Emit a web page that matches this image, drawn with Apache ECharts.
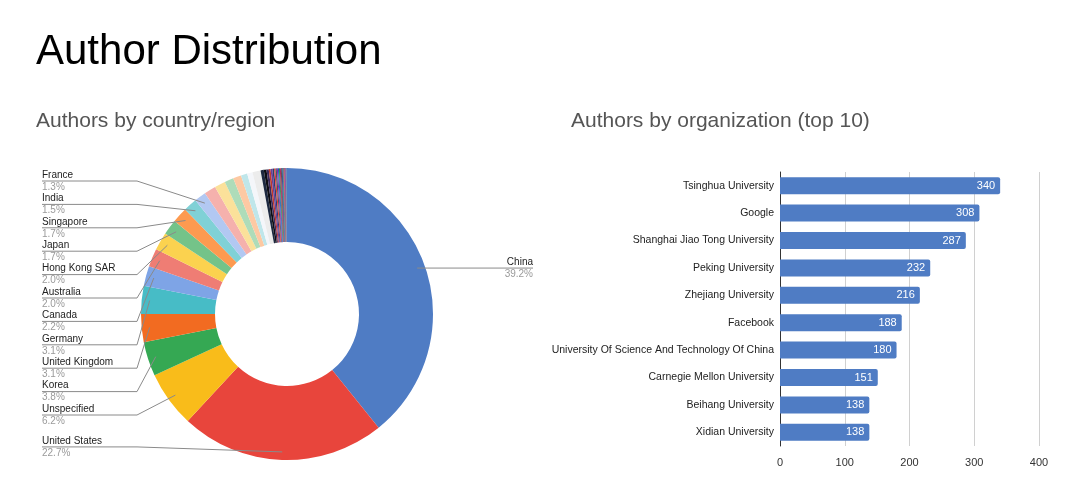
<!DOCTYPE html>
<html>
<head>
<meta charset="utf-8">
<script src="https://cdn.jsdelivr.net/npm/echarts@6/dist/echarts.min.js"></script>
<style>
html,body{margin:0;padding:0;background:#fff;}
#chart{width:1080px;height:498px;}
</style>
</head>
<body>
<div id="chart"></div>
<script>
// ---- Data ----
const countries = ['China','United States','Unspecified','Korea','United Kingdom','Germany','Canada','Australia','Hong Kong SAR','Japan','Singapore','India','France'];
const countryShares = [39.2,22.7,6.2,3.8,3.1,3.1,2.2,2.0,2.0,1.7,1.7,1.5,1.3];
// unlabeled smaller countries/regions
const otherShares = [1.3,1.2,1.0,0.9,0.7,0.6,0.9,0.35,0.3,0.25,0.2,0.2,0.18,0.15,0.15,0.12,0.12,0.1,0.1,0.1,0.1,0.08,0.08,0.07,0.07,0.06,0.06,0.06];

const organizations = ['Tsinghua University','Google','Shanghai Jiao Tong University','Peking University','Zhejiang University','Facebook','University Of Science And Technology Of China','Carnegie Mellon University','Beihang University','Xidian University'];
const orgAuthors = [340,308,287,232,216,188,180,151,138,138];
const orgTicks = [0,100,200,300,400];

// ---- Styles ----
const labeledColors = ['#4f7cc4','#e8453c','#f9bc1a','#35a853','#f26b21','#47bcc6','#7ea4e6','#ef7d74','#fbd24f','#74c389','#fd9a50','#80d1d6','#b2c8f2'];
const otherColors = ['#f5b1ad','#fbe19a','#aedcb9','#fdc9a3','#bfe6ea','#f4f6fa','#ececec',
  '#1d2940','#0e0e14','#3b2a5c','#c0392b','#6a3d9a','#2c3e73','#e53935','#455a64','#8e24aa','#1565c0','#2e7d32','#ad1457','#5d4037','#283593','#00838f','#6d4c41','#d81b60','#37474f','#7b1fa2','#4caf50','#3f51b5'];

const pieNames = countries.concat(otherShares.map((v, i) => 'Other ' + (i + 1)));
const pieValues = countryShares.concat(otherShares);
const pieColors = labeledColors.concat(otherColors);

// colored slices (no labels)
const sliceData = pieNames.map((n, i) => ({name: n, value: pieValues[i], itemStyle: {color: pieColors[i]}}));
// transparent overlay carrying labels + leader lines drawn above the slices
const overlayData = pieNames.map((n, i) => {
  const d = {name: n, value: pieValues[i]};
  if (i >= countries.length) { d.label = {show: false}; d.labelLine = {show: false}; }
  return d;
});

// ---- Layout constants ----
const PIE_CX = 287, PIE_CY = 314, R_IN = 72, R_OUT = 146, R_DOT = 138;
const LABEL_LEFT = 42, LABEL_RIGHT = 533;
const STACK_TOP = 181, STACK_STEP = 23.4, ELBOW_X = 137;
const lastLabeled = countries.length - 1;

// mid angle of each slice (clockwise from 12 o'clock), derived from the data
const total = pieValues.reduce((a, b) => a + b, 0);
const midAngles = [];
(function () {
  let cum = 0;
  pieValues.forEach(v => { midAngles.push(2 * Math.PI * (cum + v / 2) / total); cum += v; });
})();

const pieCommon = {
  type: 'pie',
  left: 0, top: 0, width: 575, height: 498,
  center: [PIE_CX, PIE_CY],
  radius: [R_IN, R_OUT],
  startAngle: 90,
  clockwise: true,
  percentPrecision: 1,
  avoidLabelOverlap: false,
  silent: true
};

const chart = echarts.init(document.getElementById('chart'), null, {renderer: 'canvas'});
chart.setOption({
  animation: false,
  textStyle: {fontFamily: 'Liberation Sans, Arial, sans-serif'},
  title: [
    {text: 'Author Distribution', left: 36, top: 31, padding: 0,
      textStyle: {fontSize: 42, fontWeight: 'normal', color: '#000'}},
    {text: 'Authors by country/region', left: 36, top: 111, padding: 0,
      textStyle: {fontSize: 21, fontWeight: 'normal', color: '#555'}},
    {text: 'Authors by organization (top 10)', left: 571, top: 111, padding: 0,
      textStyle: {fontSize: 21, fontWeight: 'normal', color: '#555'}}
  ],
  grid: {left: 780, right: 41, top: 172, bottom: 52, containLabel: false},
  xAxis: {
    type: 'value', min: orgTicks[0], max: orgTicks[orgTicks.length - 1], interval: 100,
    axisLine: {show: false}, axisTick: {show: false},
    splitLine: {lineStyle: {color: '#d0d0d0', width: 1}},
    axisLabel: {color: '#333', fontSize: 11, margin: 11}
  },
  yAxis: {
    type: 'category', data: organizations, inverse: true,
    axisLine: {show: true, lineStyle: {color: '#333', width: 1}},
    axisTick: {show: false},
    axisLabel: {color: '#222', fontSize: 10.5, margin: 6}
  },
  series: [
    Object.assign({}, pieCommon, {
      name: 'slices',
      z: 2,
      data: sliceData,
      label: {show: false},
      labelLine: {show: false}
    }),
    Object.assign({}, pieCommon, {
      name: 'labels',
      z: 5,
      data: overlayData,
      itemStyle: {color: 'rgba(0,0,0,0)'},
      label: {
        show: true,
        position: 'outer',
        alignTo: 'edge',
        edgeDistance: 42,
        formatter: function (p) {
          return '{n|' + p.name + '}\n{p|' + p.percent.toFixed(1) + '%}';
        },
        rich: {
          n: {fontSize: 10, color: '#222', lineHeight: 12},
          p: {fontSize: 10, color: '#9a9a9a', lineHeight: 12}
        }
      },
      labelLine: {
        show: true, showAbove: true, length: 8, length2: 10,
        lineStyle: {color: '#8a8a8a', width: 1}
      },
      labelLayout: function (params) {
        const idx = params.dataIndex;
        if (idx > lastLabeled) return;
        const a = midAngles[idx];
        const p0 = [PIE_CX + R_DOT * Math.sin(a), PIE_CY - R_DOT * Math.cos(a)];
        if (p0[0] > PIE_CX + 20) {
          const y = p0[1];
          return {
            x: LABEL_RIGHT, y: y, align: 'right', verticalAlign: 'middle',
            labelLinePoints: [p0, [p0[0] + 10, y], [LABEL_RIGHT, y]]
          };
        }
        let y;
        if (idx === 1) {
          y = p0[1] - 5;
        } else {
          y = STACK_TOP + (lastLabeled - idx) * STACK_STEP;
        }
        const ex = Math.min(ELBOW_X, p0[0] - 4);
        return {
          x: LABEL_LEFT, y: y, align: 'left', verticalAlign: 'middle',
          labelLinePoints: [p0, [ex, y], [LABEL_LEFT, y]]
        };
      }
    }),
    {
      type: 'bar',
      data: orgAuthors,
      barWidth: 17,
      itemStyle: {color: '#4f7cc4', borderRadius: [0, 2, 2, 0]},
      label: {
        show: true, position: 'insideRight', color: '#fff', fontSize: 11, distance: 5
      },
      silent: true
    }
  ]
});
</script>
</body>
</html>
